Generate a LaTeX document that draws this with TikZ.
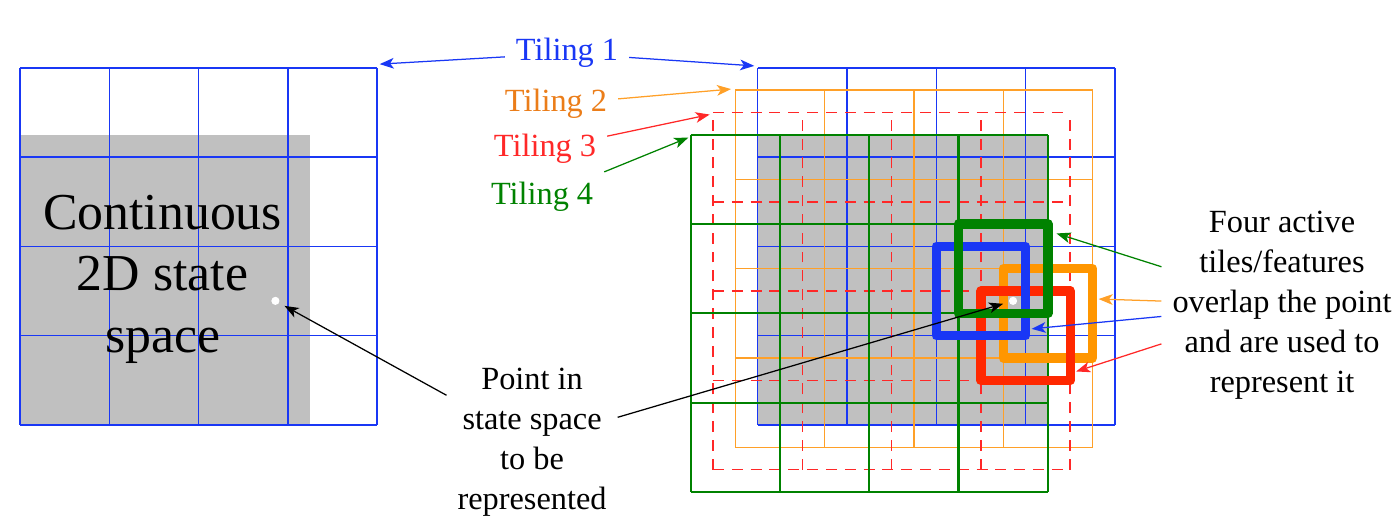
\documentclass[tikz,border=0pt]{standalone}
\usepackage{fontspec}
\setmainfont{Liberation Serif}
\usetikzlibrary{arrows.meta}

\definecolor{tileblue}{RGB}{25,55,245}
\definecolor{tileorange}{RGB}{255,160,40}
\definecolor{textorange}{RGB}{235,125,25}
\definecolor{tilered}{RGB}{255,40,40}
\definecolor{tilegreen}{RGB}{0,130,0}
\definecolor{actorange}{RGB}{255,150,0}
\definecolor{actred}{RGB}{255,40,0}
\definecolor{statefill}{RGB}{192,192,192}

\tikzset{
  lab/.style={font=\fontsize{10.3}{12.75}\selectfont, align=center},
  tip/.style={-{Stealth[length=4.5pt,width=3.4pt,inset=1.2pt]}, shorten >=0.5pt},
  pt/.style={circle, fill=white, inner sep=0pt, minimum size=2.6pt, outer sep=1.5pt},
  active/.style={line width=3pt, line join=round},
}

\begin{document}
\begin{tikzpicture}
    \useasboundingbox (-0.224,-1.187) rectangle (15.453,4.759);

    % single tiling of the state space
    \fill[statefill] (0,0) rectangle (3.25,3.25);
    \draw[tileblue, line width=0.45pt] (0,0) grid (4,4);
    \node[font=\fontsize{16.5}{19.6}\selectfont, align=center] (space) at (1.596,1.635) {Continuous\\2D state\\space};
    \node[pt] (ptL) at (2.86,1.39) {};

    % four offset tilings
    \begin{scope}[shift={(8.26,0)}]
        \fill[statefill] (0,0) rectangle (3.25,3.25);
        \draw[tileblue, line width=0.45pt] (0,0) grid (4,4);
        \draw[tileorange, line width=0.45pt, shift={(-0.25,-0.25)}] (0,0) grid (4,4);
        \draw[tilered, line width=0.5pt, dash pattern=on 3.5pt off 2.5pt, shift={(-0.5,-0.5)}] (0,0) grid (4,4);
        \draw[tilegreen, line width=0.7pt, shift={(-0.75,-0.75)}] (0,0) grid (4,4);

        \draw[active, actorange] (2.75,0.75) rectangle ++(1,1);
        \draw[active, actred] (2.5,0.5) rectangle ++(1,1);
        \draw[active, tileblue] (2,1) rectangle ++(1,1);
        \draw[active, tilegreen] (2.25,1.25) rectangle ++(1,1);
        \node[pt] (ptR) at (2.86,1.39) {};
    \end{scope}

    \node[lab, anchor=base, text=tileblue] (t1) at (6.125,4.076) {Tiling 1};
    \node[lab, anchor=base, text=textorange] (t2) at (6.002,3.505) {Tiling 2};
    \node[lab, anchor=base, text=tilered] (t3) at (5.879,3.001) {Tiling 3};
    \node[lab, anchor=base, text=tilegreen] (t4) at (5.846,2.464) {Tiling 4};
    \coordinate (c1L) at (4.01,4.04);
    \coordinate (c1R) at (8.24,4.02);
    \coordinate (c2) at (7.98,3.763);
    \coordinate (c3) at (7.74,3.48);
    \coordinate (c4) at (7.50,3.225);
    \draw[tip, tileblue] (t1) -- (c1L);
    \draw[tip, tileblue] (t1) -- (c1R);
    \draw[tip, tileorange] (t2) -- (c2);
    \draw[tip, tilered] (t3) -- (c3);
    \draw[tip, tilegreen] (t4) -- (c4);

    \node[lab] (four) at (14.132,1.344) {Four active\\tiles/features\\overlap the point\\and are used to\\represent it};
    \coordinate (aG) at (11.59,2.15);
    \coordinate (aO) at (12.06,1.411);
    \coordinate (aB) at (11.31,1.075);
    \coordinate (aR) at (11.81,0.594);
    \draw[tip, tilegreen] (four) -- (aG);
    \draw[tip, tileorange] (four) -- (aO);
    \draw[tip, tileblue] (four) -- (aB);
    \draw[tip, tilered] (four) -- (aR);

    \node[lab] (pointtxt) at (5.734,-0.196) {Point in\\state space\\to be\\represented};
    \draw[tip] (pointtxt) -- (ptL);
    \draw[tip] (pointtxt) -- (ptR);
\end{tikzpicture}
\end{document}
